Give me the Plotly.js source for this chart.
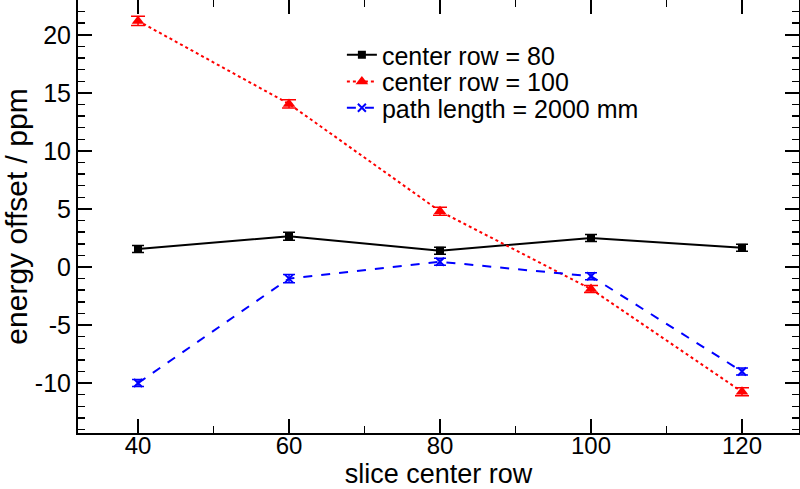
<!DOCTYPE html>
<html>
<head>
<meta charset="utf-8">
<script src="https://cdn.plot.ly/plotly-3.0.1.min.js"></script>
<style>html,body{margin:0;padding:0;background:#fff;}#chart{width:800px;height:489px;}</style>
</head>
<body>
<div id="chart"></div>
<script>
const sliceRows = [40, 60, 80, 100, 120];
const centerRow80 = [1.55, 2.65, 1.4, 2.5, 1.65];
const centerRow80Err = [0.3, 0.35, 0.3, 0.3, 0.3];
const centerRow100 = [21.2, 14.05, 4.8, -1.9, -10.75];
const centerRow100Err = [0.4, 0.35, 0.35, 0.3, 0.35];
const pathLength2000 = [-10.0, -1.0, 0.45, -0.8, -9.0];
const pathLength2000Err = [0.3, 0.35, 0.3, 0.3, 0.3];
const seriesNames = ["center row = 80", "center row = 100", "path length = 2000 mm"];

const traces = [
  {
    x: sliceRows, y: centerRow80, name: seriesNames[0], type: "scatter", mode: "lines+markers",
    legend: "legend",
    line: {color: "#000000", width: 2, dash: "solid"},
    marker: {symbol: "square", size: 8, color: "#000000"},
    error_y: {type: "data", array: centerRow80Err, visible: true, color: "#000000", thickness: 1.5, width: 6}
  },
  {
    x: sliceRows, y: centerRow100, name: seriesNames[1], type: "scatter", mode: "lines+markers",
    legend: "legend2",
    line: {color: "#ff0000", width: 2, dash: "dot"},
    marker: {symbol: "triangle-up", size: 11, color: "#ff0000"},
    error_y: {type: "data", array: centerRow100Err, visible: true, color: "#ff0000", thickness: 1.5, width: 7}
  },
  {
    x: sliceRows, y: pathLength2000, name: seriesNames[2], type: "scatter", mode: "lines+markers",
    legend: "legend3",
    line: {color: "#0000ff", width: 2, dash: "dash"},
    marker: {symbol: "x-thin", size: 8, color: "#0000ff", line: {color: "#0000ff", width: 2}},
    error_y: {type: "data", array: pathLength2000Err, visible: true, color: "#0000ff", thickness: 1.5, width: 6}
  }
];

const fontFam = "Liberation Sans, Arial, Helvetica, sans-serif";
function legendAt(yc) {
  return {
    x: 0.366, y: yc, xanchor: "left", yanchor: "middle",
    bgcolor: "rgba(0,0,0,0)", borderwidth: 0,
    font: {family: fontFam, size: 25, color: "#000000"}
  };
}
const layout = {
  width: 800, height: 489,
  margin: {l: 78, r: 1, t: 0, b: 56, pad: 0},
  paper_bgcolor: "#ffffff", plot_bgcolor: "#ffffff",
  font: {family: fontFam, color: "#000000", size: 25},
  showlegend: true,
  legend: legendAt(1 - 55 / 433),
  legend2: legendAt(1 - 81.7 / 433),
  legend3: legendAt(1 - 108 / 433),
  xaxis: {
    range: [32.05, 127.55],
    tickvals: [40, 60, 80, 100, 120],
    ticks: "inside", ticklen: 14, tickwidth: 1.5, tickcolor: "#000000",
    showline: true, linecolor: "#000000", linewidth: 2, mirror: "ticks",
    showgrid: false, zeroline: false,
    tickfont: {family: fontFam, size: 24, color: "#000000"},
    ticklabelstandoff: -10,
    minor: {tickvals: [50, 70, 90, 110], ticks: "inside", ticklen: 7, tickwidth: 1.5, tickcolor: "#000000", showgrid: false},
    title: {text: "slice center row", font: {family: fontFam, size: 27, color: "#000000"}, standoff: 0}
  },
  yaxis: {
    range: [-14.3, 23.0],
    tickvals: [-10, -5, 0, 5, 10, 15, 20],
    ticktext: ["-10", "-5", "0", "5", "10", "15", "20"],
    ticks: "inside", ticklen: 14, tickwidth: 1.5, tickcolor: "#000000",
    showline: true, linecolor: "#000000", linewidth: 2, mirror: "ticks",
    showgrid: false, zeroline: false,
    tickfont: {family: fontFam, size: 25, color: "#000000"},
    ticklabelstandoff: 0,
    minor: {dtick: 1, tick0: 0, ticks: "inside", ticklen: 7, tickwidth: 1.5, tickcolor: "#000000", showgrid: false},
    title: {text: "energy offset / ppm", font: {family: fontFam, size: 30, color: "#000000"}, standoff: 4}
  }
};

Plotly.newPlot("chart", traces, layout, {displayModeBar: false, staticPlot: true});
</script>
</body>
</html>
